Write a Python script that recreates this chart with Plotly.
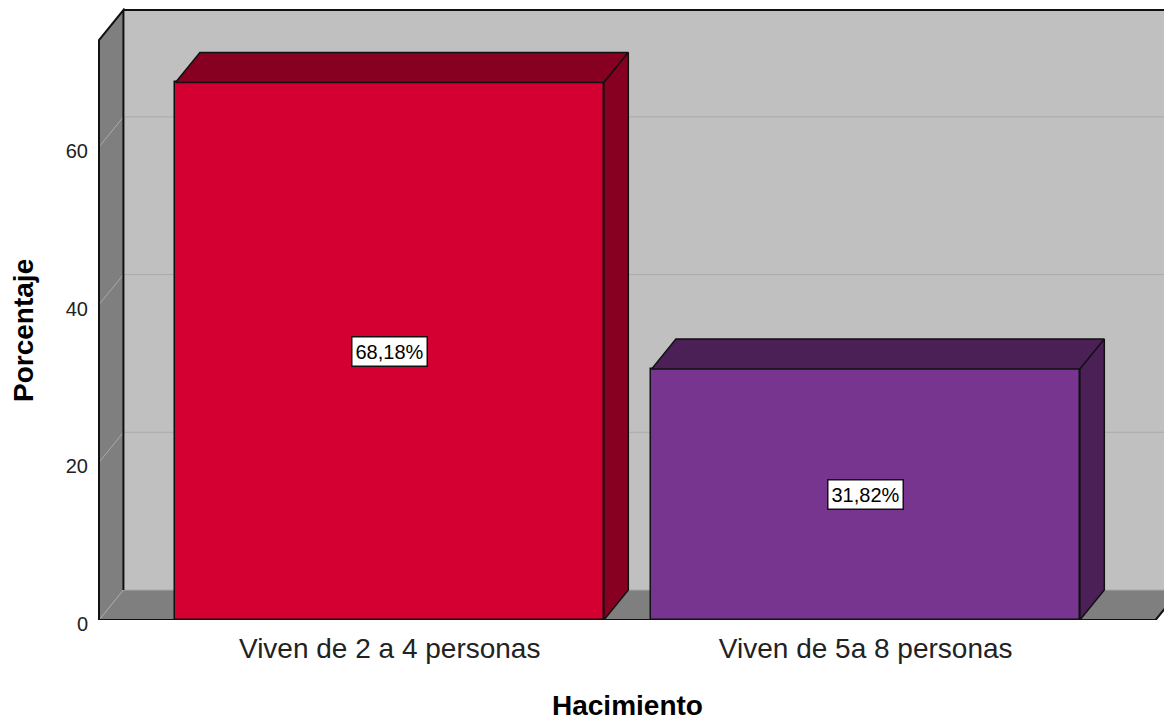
import plotly.graph_objects as go

# ---------------- data ----------------
categories = ["Viven de 2 a 4 personas", "Viven de 5a 8 personas"]
percentages = [68.18, 31.82]
value_labels = ["68,18%", "31,82%"]
y_tick_values = [0, 20, 40, 60]
y_tick_labels = ["0", "20", "40", "60"]
x_title = "Hacimiento"
y_title = "Porcentaje"

# ---------------- style ----------------
front_colors = ["#d50032", "#77358f"]
shade_colors = ["#870021", "#4a2057"]
BACK_WALL = "#c0c0c0"
SIDE_WALL = "#7f7f7f"
GRID = "#aaaaaa"
EDGE = "#111111"
FONT = "Liberation Sans, Arial, sans-serif"

BAR_W = 0.9
DX = 0.0513      # depth offset (category units)
DY = 3.805       # depth offset (value units)
X_LEFT = -0.6107
X_RIGHT = 1.609
Y_TOP = 73.56
X_RANGE = [-0.6191, 1.6435]
Y_RANGE = [0, 77.62]
X_FAR = X_RANGE[1] + 0.2

fig = go.Figure()

# front faces of bars
fig.add_trace(go.Bar(
    x=list(range(len(categories))), y=percentages, width=BAR_W,
    marker=dict(color=front_colors, line=dict(color=EDGE, width=1.5)),
    hoverinfo="skip", showlegend=False,
))

# top and side faces
for i, v in enumerate(percentages):
    x0, x1 = i - BAR_W / 2, i + BAR_W / 2
    fig.add_trace(go.Scatter(
        x=[x0, x1, x1 + DX, x0 + DX, x0], y=[v, v, v + DY, v + DY, v],
        mode="lines", fill="toself", fillcolor=shade_colors[i],
        line=dict(color=EDGE, width=1.5), hoverinfo="skip", showlegend=False,
    ))
    fig.add_trace(go.Scatter(
        x=[x1, x1 + DX, x1 + DX, x1, x1], y=[0, DY, v + DY, v, 0],
        mode="lines", fill="toself", fillcolor=shade_colors[i],
        line=dict(color=EDGE, width=1.5), hoverinfo="skip", showlegend=False,
    ))

shapes = []


def poly(pts, fill):
    d = "M " + " L ".join(f"{x},{y}" for x, y in pts) + " Z"
    return dict(type="path", path=d, xref="x", yref="y", layer="below",
                fillcolor=fill, line=dict(width=0, color=fill))


def seg(pts, color, width):
    d = "M " + " L ".join(f"{x},{y}" for x, y in pts)
    return dict(type="path", path=d, xref="x", yref="y", layer="below",
                line=dict(color=color, width=width))


# walls
shapes.append(poly([(X_LEFT + DX, DY), (X_FAR, DY), (X_FAR, Y_TOP + DY), (X_LEFT + DX, Y_TOP + DY)], BACK_WALL))
shapes.append(poly([(X_LEFT, 0), (X_RIGHT, 0), (X_RIGHT + DX, DY), (X_LEFT + DX, DY)], SIDE_WALL))
shapes.append(poly([(X_LEFT, 0), (X_LEFT, Y_TOP), (X_LEFT + DX, Y_TOP + DY), (X_LEFT + DX, DY)], SIDE_WALL))

# grid lines
for v in y_tick_values:
    shapes.append(seg([(X_LEFT, v), (X_LEFT + DX, v + DY), (X_FAR, v + DY)], GRID, 1))

# edges
shapes.append(seg([(X_LEFT + DX, Y_TOP + DY), (X_FAR, Y_TOP + DY)], EDGE, 2))
shapes.append(seg([(X_LEFT, 0), (X_LEFT, Y_TOP), (X_LEFT + DX, Y_TOP + DY), (X_LEFT + DX, DY)], EDGE, 2))
shapes.append(seg([(X_LEFT, 0), (X_RIGHT, 0), (X_RIGHT + DX, DY)], EDGE, 2))

annotations = []
for i, v in enumerate(percentages):
    annotations.append(dict(
        x=i, y=v / 2, xref="x", yref="y", text=value_labels[i], showarrow=False,
        font=dict(family=FONT, size=20, color="#000000"),
        bgcolor="#ffffff", bordercolor=EDGE, borderwidth=1.5, borderpad=3,
    ))

annotations.append(dict(
    x=-0.0669, y=Y_TOP / 2, xref="paper", yref="y", text=f"<b>{y_title}</b>",
    textangle=-90, showarrow=False, xanchor="center", yanchor="middle",
    font=dict(family=FONT, size=28, color="#000000"),
))
annotations.append(dict(
    x=(X_LEFT + X_RIGHT) / 2, y=-0.1405, xref="x", yref="paper", text=f"<b>{x_title}</b>",
    showarrow=False, xanchor="center", yanchor="middle",
    font=dict(family=FONT, size=28, color="#000000"),
))

fig.update_layout(
    width=1164, height=714,
    margin=dict(l=87, r=0, t=0, b=102),
    paper_bgcolor="#ffffff", plot_bgcolor="#ffffff",
    shapes=shapes, annotations=annotations,
    xaxis=dict(range=X_RANGE, tickvals=list(range(len(categories))), ticktext=categories,
               showgrid=False, zeroline=False, showline=False, ticks="",
               tickfont=dict(family=FONT, size=28, color="#222222"), ticklabelstandoff=9,
               fixedrange=True),
    yaxis=dict(range=Y_RANGE, tickvals=y_tick_values, ticktext=y_tick_labels,
               showgrid=False, zeroline=False, showline=False, ticks="",
               tickfont=dict(family=FONT, size=20, color="#222222"), ticklabelstandoff=6,
               ticklabelshift=4, fixedrange=True),
    bargap=0,
)

fig.write_html("out.html")
